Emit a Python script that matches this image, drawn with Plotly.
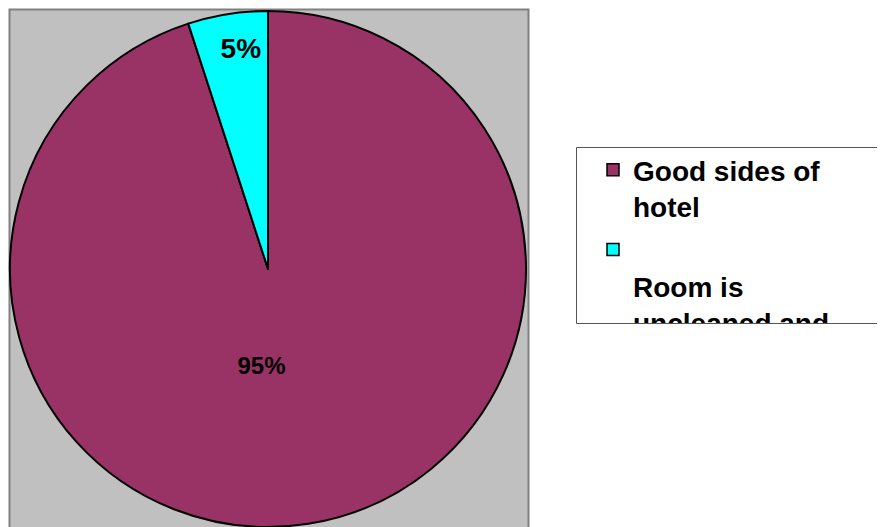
import plotly.graph_objects as go

W, H = 885, 527
OFF = 8  # page body margin in the browser

# ---- data ----
categories = ["Good sides of hotel", "Room is uncleaned and"]
legend_labels = ["Good sides of<br>hotel", "<br>Room is<br>uncleaned and"]
values = [95, 5]

# ---- styles ----
colors = ["#993366", "#00FFFF"]
label_sizes = [24, 28]
NB = "\u00a0"
text_templates = ["%{percent:.0%}" + NB * 8 + "<br>" + NB + "<br>" + NB,
                  NB * 2 + "%{percent:.0%}"]
FONT = "Liberation Sans, Arial, sans-serif"


def px_x(x):
    return (x - OFF) / W


def px_y(y):
    return 1 - (y - OFF) / H


fig = go.Figure()

# pie (reference centre ~ (268, 269), radius ~258)
fig.add_trace(go.Pie(
    labels=categories,
    values=values,
    sort=False,
    direction="clockwise",
    rotation=0,
    marker=dict(colors=colors, line=dict(color="black", width=2)),
    texttemplate=text_templates,
    textposition="inside",
    insidetextorientation="horizontal",
    textfont=dict(family=FONT, size=label_sizes, color="black", weight="bold"),
    domain=dict(x=[px_x(10), px_x(526)], y=[px_y(527), px_y(11)]),
    showlegend=False,
    hoverinfo="label+percent",
))

# legend entries (one group per category so the gap between entries can be set)
for i, (name, col) in enumerate(zip(legend_labels, colors)):
    if i == 1:
        name = name + NB * 12
    fig.add_trace(go.Bar(
        x=[None], y=[None], name=name,
        marker=dict(color=col, line=dict(color="black", width=1.5)),
        legendgroup=f"g{i}", showlegend=True, hoverinfo="skip",
    ))

fig.update_layout(
    width=W, height=H,
    margin=dict(l=0, r=0, t=0, b=0, autoexpand=False),
    paper_bgcolor="white",
    plot_bgcolor="rgba(0,0,0,0)",
    xaxis=dict(visible=False),
    yaxis=dict(visible=False),
    showlegend=True,
    legend=dict(
        x=px_x(593), y=px_y(145), xanchor="left", yanchor="top",
        bgcolor="rgba(0,0,0,0)", borderwidth=0,
        font=dict(family=FONT, size=28, color="black", weight="bold"),
        valign="top",
        traceorder="grouped",
        tracegroupgap=4,
        maxheight=178,
    ),
    shapes=[
        dict(type="rect", xref="paper", yref="paper", layer="below",
             x0=px_x(9.5), x1=px_x(528.5), y0=-0.05, y1=px_y(9.5),
             fillcolor="#C0C0C0", line=dict(color="#808080", width=2)),
        dict(type="rect", xref="paper", yref="paper", layer="below",
             x0=px_x(576.5), x1=1.1, y0=px_y(323.5), y1=px_y(147.5),
             fillcolor="white", line=dict(color="#555555", width=1)),
    ],
)

fig.write_html("out.html")
